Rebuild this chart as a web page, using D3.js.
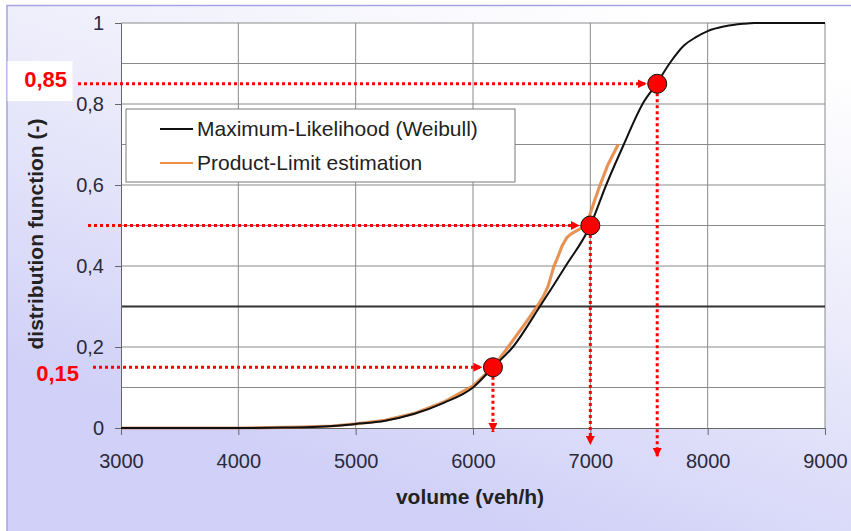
<!DOCTYPE html>
<html>
<head>
<meta charset="utf-8">
<script src="https://cdn.jsdelivr.net/npm/d3@7"></script>
<style>
  body { margin: 0; background: #fff; }
  svg { display: block; font-family: Arial, "Liberation Sans", sans-serif; }
</style>
</head>
<body>
<script>
// tick values
const xTicks = [3000, 4000, 5000, 6000, 7000, 8000, 9000];
const yTicks = [0, 0.2, 0.4, 0.6, 0.8, 1];
const yGrid = [0.1, 0.2, 0.4, 0.5, 0.6, 0.7, 0.8, 0.9, 1];

// Maximum-Likelihood (Weibull) curve
const mlVolume = [3000, 4000, 4400, 4800, 5000, 5250, 5500, 5750, 6000, 6170, 6340, 6570, 6790, 7000, 7135, 7285, 7445, 7565, 7675, 7800, 7900, 8000, 8150, 8300, 8400, 9000];
const mlF      = [0, 0, 0.001, 0.005, 0.01, 0.018, 0.035, 0.062, 0.10, 0.15, 0.2, 0.3, 0.4, 0.5, 0.6, 0.7, 0.8, 0.85, 0.9, 0.945, 0.965, 0.98, 0.992, 0.998, 1, 1];

// Product-Limit estimation
const plVolume = [3000, 4000, 4500, 4800, 5000, 5250, 5500, 5750, 6000, 6170, 6300, 6450, 6546, 6600, 6640, 6670, 6690, 6720, 6760, 6800, 6840, 6900, 6960, 7000, 7040, 7083, 7150, 7237];
const plF      = [0, 0, 0.002, 0.005, 0.01, 0.019, 0.036, 0.064, 0.104, 0.15, 0.2, 0.26, 0.3, 0.325, 0.35, 0.38, 0.40, 0.42, 0.45, 0.47, 0.48, 0.49, 0.5, 0.53, 0.565, 0.6, 0.65, 0.70];

// highlighted quantiles
const markVolume = [6170, 7000, 7570];
const markF = [0.15, 0.5, 0.85];
const markLabels = ["0,15", "", "0,85"];

const width = 851, height = 531;
const margin = { top: 23, right: 26, bottom: 103, left: 121 };

const svg = d3.select("body").append("svg")
    .attr("width", width)
    .attr("height", height);

// background gradient
const defs = svg.append("defs");
const grad = defs.append("linearGradient")
    .attr("id", "bg")
    .attr("x1", "0.75").attr("y1", "0")
    .attr("x2", "0.3").attr("y2", "0.85");
grad.append("stop").attr("offset", "0").attr("stop-color", "#ffffff");
grad.append("stop").attr("offset", "0.45").attr("stop-color", "#ebebfb");
grad.append("stop").attr("offset", "1").attr("stop-color", "#d0d0f8");

defs.append("marker")
    .attr("id", "arrow")
    .attr("viewBox", "0 0 10 10")
    .attr("refX", 10).attr("refY", 5)
    .attr("markerUnits", "userSpaceOnUse")
    .attr("markerWidth", 9).attr("markerHeight", 9)
    .attr("orient", "auto")
    .append("path")
    .attr("d", "M0,0L10,5L0,10z")
    .attr("fill", "red");

svg.append("rect")
    .attr("x", 7).attr("y", 5)
    .attr("width", width - 7).attr("height", height - 5)
    .attr("fill", "url(#bg)");
svg.append("path")
    .attr("d", `M7,${height}V5.5H${width}`)
    .attr("fill", "none")
    .attr("stroke", "#a4a4e4")
    .attr("stroke-width", 1.5);

const x = d3.scaleLinear().domain([3000, 9000]).range([margin.left, width - margin.right]);
const y = d3.scaleLinear().domain([0, 1]).range([height - margin.bottom, margin.top]);

// plot area
svg.append("rect")
    .attr("x", x(3000)).attr("y", y(1))
    .attr("width", x(9000) - x(3000)).attr("height", y(0) - y(1))
    .attr("fill", "#fff");

// grid
svg.append("g")
    .selectAll("line")
    .data(yGrid)
    .join("line")
    .attr("x1", x(3000)).attr("x2", x(9000))
    .attr("y1", d => y(d)).attr("y2", d => y(d))
    .attr("stroke", "#8a8a8a");
svg.append("g")
    .selectAll("line")
    .data(xTicks.slice(1))
    .join("line")
    .attr("x1", d => x(d)).attr("x2", d => x(d))
    .attr("y1", y(0)).attr("y2", y(1))
    .attr("stroke", "#8a8a8a");

// darker line at 0,3
svg.append("line")
    .attr("x1", x(3000)).attr("x2", x(9000))
    .attr("y1", y(0.3)).attr("y2", y(0.3))
    .attr("stroke", "#333")
    .attr("stroke-width", 2);

// axes
const fmt = d => String(d).replace(".", ",");
const yAxis = svg.append("g")
    .attr("transform", `translate(${x(3000)},0)`)
    .call(d3.axisLeft(y).tickValues(yTicks).tickSize(6).tickPadding(11).tickFormat(fmt));
const xAxis = svg.append("g")
    .attr("transform", `translate(0,${y(0)})`)
    .call(d3.axisBottom(x).tickValues(xTicks).tickSize(7).tickPadding(19).tickFormat(d3.format("d")));
[xAxis, yAxis].forEach(g => {
    g.select(".domain").attr("stroke", "#666");
    g.selectAll(".tick line").attr("stroke", "#666");
    g.selectAll(".tick text")
        .attr("fill", "#2a2a3a")
        .style("font-size", "20px")
        .style("font-family", "Arial, 'Liberation Sans', sans-serif");
});

// axis titles
svg.append("text")
    .attr("x", (x(3000) + x(9000)) / 2 - 3)
    .attr("y", 504)
    .attr("text-anchor", "middle")
    .style("font-size", "21px")
    .style("font-weight", "bold")
    .attr("fill", "#222")
    .text("volume (veh/h)");
svg.append("text")
    .attr("transform", "translate(43,234) rotate(-90)")
    .attr("text-anchor", "middle")
    .style("font-size", "21px")
    .style("font-weight", "bold")
    .attr("fill", "#222")
    .text("distribution function (-)");

// curves
const mlData = mlVolume.map((v, i) => [v, mlF[i]]);
const plData = plVolume.map((v, i) => [v, plF[i]]);

svg.append("path")
    .datum(plData)
    .attr("fill", "none")
    .attr("stroke", "#b8652a")
    .attr("stroke-width", 3.2)
    .attr("stroke-opacity", 0.6)
    .attr("d", d3.line().x(d => x(d[0])).y(d => y(d[1])));
svg.append("path")
    .datum(plData)
    .attr("fill", "none")
    .attr("stroke", "#f09048")
    .attr("stroke-width", 2)
    .attr("d", d3.line().x(d => x(d[0])).y(d => y(d[1])));

svg.append("path")
    .datum(mlData)
    .attr("fill", "none")
    .attr("stroke", "#111")
    .attr("stroke-width", 2)
    .attr("d", d3.line().curve(d3.curveMonotoneX).x(d => x(d[0])).y(d => y(d[1])));

// legend
const legend = svg.append("g");
legend.append("rect")
    .attr("x", 126).attr("y", 109)
    .attr("width", 389).attr("height", 73)
    .attr("fill", "#fff")
    .attr("stroke", "#7a7a7a");
const legendItems = [
    { label: "Maximum-Likelihood (Weibull)", color: "#111" },
    { label: "Product-Limit estimation", color: "#f09048" }
];
legendItems.forEach((d, i) => {
    const ly = 129 + i * 34;
    legend.append("line")
        .attr("x1", 160).attr("x2", 193)
        .attr("y1", ly).attr("y2", ly)
        .attr("stroke", d.color)
        .attr("stroke-width", 2);
    legend.append("text")
        .attr("x", 197).attr("y", ly + 7)
        .style("font-size", "21px")
        .attr("fill", "#222")
        .text(d.label);
});

// white box behind the 0,85 label
svg.append("rect")
    .attr("x", 7.5).attr("y", 61)
    .attr("width", 65).attr("height", 40)
    .attr("fill", "#fff");

// annotations
const hStart = [93, 88, 78];
const vEnd = [4, 17, 29];
const r = 9.5;
markVolume.forEach((v, i) => {
    const cx = x(v), cy = y(markF[i]);
    svg.append("line")
        .attr("x1", hStart[i]).attr("x2", cx - r - 1)
        .attr("y1", cy).attr("y2", cy)
        .attr("stroke", "red")
        .attr("stroke-width", 3)
        .attr("stroke-dasharray", "3,3")
        .attr("marker-end", "url(#arrow)");
    svg.append("line")
        .attr("x1", cx).attr("x2", cx)
        .attr("y1", cy + r).attr("y2", y(0) + vEnd[i])
        .attr("stroke", "red")
        .attr("stroke-width", 3)
        .attr("stroke-dasharray", "3,3")
        .attr("marker-end", "url(#arrow)");
});
markVolume.forEach((v, i) => {
    svg.append("circle")
        .attr("cx", x(v)).attr("cy", y(markF[i]))
        .attr("r", r)
        .attr("fill", "red")
        .attr("stroke", "#111")
        .attr("stroke-width", 1);
    if (markLabels[i]) {
        svg.append("text")
            .attr("x", i === 0 ? 79 : 67)
            .attr("y", y(markF[i]) + (i === 0 ? 14 : 3))
            .attr("text-anchor", "end")
            .style("font-size", "22px")
            .style("font-weight", "bold")
            .attr("fill", "red")
            .text(markLabels[i]);
    }
});
</script>
</body>
</html>
